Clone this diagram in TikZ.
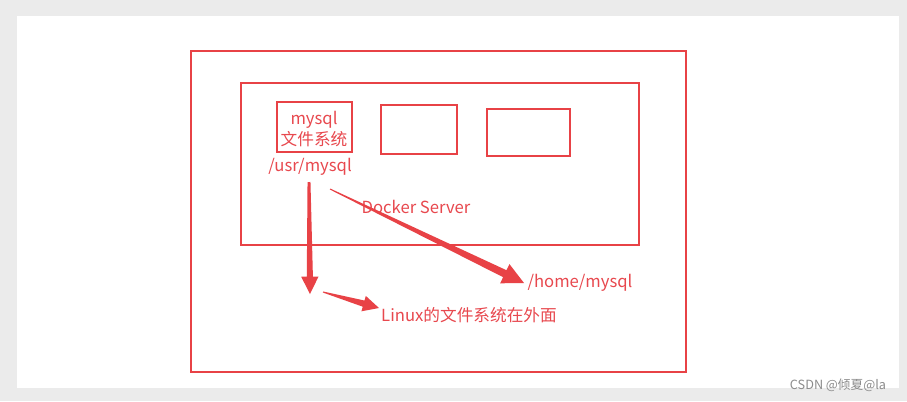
\documentclass[tikz,border=0pt]{standalone}
\usepackage{fontspec}
\setmainfont{Noto Sans CJK SC}
\usetikzlibrary{arrows.meta,calc}
\definecolor{bgGray}{RGB}{235,235,235}
\definecolor{redLine}{RGB}{232,66,70}
\definecolor{redText}{RGB}{232,72,78}
\definecolor{markGray}{RGB}{140,140,140}
\tikzset{
  box/.style={draw=redLine, line width=1.8pt, inner sep=0pt, outer sep=0pt},
  lbl/.style={text=redText, font=\fontsize{12.5}{14}\selectfont, inner sep=0pt},
}
% tapered arrow: #1 start, #2 end, #3 start half width, #4 end half width, #5 head length, #6 head half width
\newcommand\taperarrow[6]{%
  \coordinate (#1-#2-h) at ($(#2)!#5!(#1)$);
  \fill[redLine] ($(#1)!#3!90:(#2)$) -- ($(#1-#2-h)!#4!90:(#2)$) -- ($(#1-#2-h)!#6!90:(#2)$)
    -- (#2) -- ($(#1-#2-h)!#6!-90:(#2)$) -- ($(#1-#2-h)!#4!-90:(#2)$) -- ($(#1)!#3!-90:(#2)$) -- cycle;
}
\begin{document}
\begin{tikzpicture}[x=0.75pt,y=-0.75pt]
\useasboundingbox (0,0) rectangle (907,401);
\fill[bgGray] (0,0) rectangle (907,401);
\fill[white] (17,16) rectangle (899,388);
% boxes
\node[box, minimum width=371.25pt, minimum height=240.75pt] (outer) at (438.5,211.5) {};
\node[box, minimum width=298.5pt, minimum height=121.5pt] (inner) at (440,164) {};
\node[box, minimum width=56.25pt, minimum height=37.5pt] (mysqlbox) at (314.5,127) {};
\node[box, minimum width=57pt, minimum height=36.75pt] (boxb) at (419,129.5) {};
\node[box, minimum width=62.25pt, minimum height=35.25pt] (boxc) at (528.5,132.5) {};
% texts
\node[lbl] (mysql) at (314,120) {mysql};
\node[lbl] (fs) at (314,139) {文件系统};
\node[lbl] (usr) at (310,167) {/usr/mysql};
\node[lbl] (docker) at (416,207) {Docker Server};
\node[lbl] (home) at (580,283) {/home/mysql};
\node[lbl] (linux) at (469,315) {Linux的文件系统在外面};
\node[text=markGray, font=\fontsize{9.5}{11}\selectfont, inner sep=0pt] (mark) at (838,385) {CSDN @倾夏@la};
% arrows
\coordinate (a1s) at (309,182);
\coordinate (a1e) at (310,294);
\coordinate (a2s) at (330,189);
\coordinate (a2e) at (524,283);
\coordinate (a3s) at (323,292);
\coordinate (a3e) at (379,308);
\taperarrow{a1s}{a1e}{1.1pt}{2.3pt}{13pt}{6.5pt}
\taperarrow{a2s}{a2e}{0.4pt}{2.9pt}{16pt}{8pt}
\taperarrow{a3s}{a3e}{0.4pt}{2.4pt}{12pt}{6pt}
\end{tikzpicture}
\end{document}
